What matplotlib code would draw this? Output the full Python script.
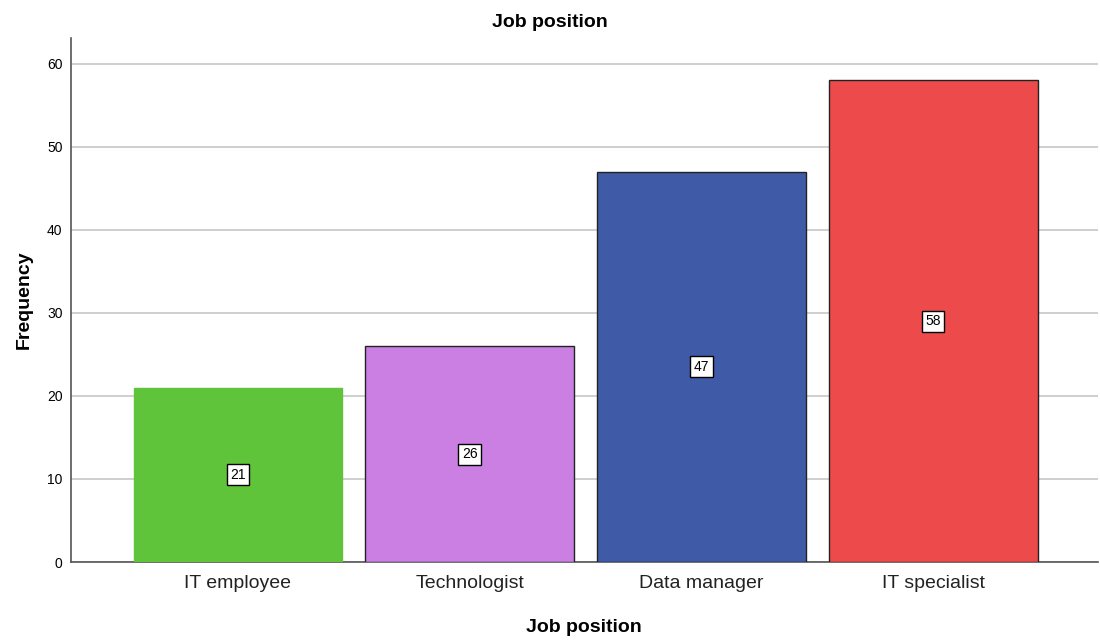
import matplotlib
matplotlib.use('Agg')
import matplotlib.pyplot as plt

plt.rcParams['font.family'] = ['Liberation Sans', 'DejaVu Sans']

# data
positions = ['IT employee', 'Technologist', 'Data manager', 'IT specialist']
freq = [21, 26, 47, 58]
colors = ['#5fc43a', '#cb7fe3', '#3f5ba8', '#ec4a4b']
edges = ['#5fc43a', '#222222', '#222222', '#222222']

fig = plt.figure(figsize=(11, 6.41), dpi=100)
ax = fig.add_axes([0.0645, 0.1232, 0.9335, 0.8175])

x = range(len(positions))
ax.bar(x, freq, width=0.9, color=colors, edgecolor=edges, linewidth=1.0, zorder=3)

# value labels in boxes at mid height
for i, v in enumerate(freq):
	ax.text(i, v/2., str(v), ha='center', va='center', fontsize=10, zorder=4,
		bbox=dict(boxstyle='square,pad=0.25', fc='white', ec='black', lw=1))

ax.set_xlim(-0.72, 3.71)
ax.set_ylim(0, 63.1)
ax.set_yticks(range(0, 61, 10))
ax.set_xticks(list(x))
ax.set_xticklabels(positions, fontsize=14)
ax.tick_params(axis='y', labelsize=10, length=0, pad=6)
ax.tick_params(axis='x', length=0, pad=9, colors='#222222')
ax.yaxis.grid(True, color='#cccccc', linewidth=1.3, zorder=0)

for s in ['top', 'right']:
	ax.spines[s].set_visible(False)
for s in ['left', 'bottom']:
	ax.spines[s].set_color('#555555')
	ax.spines[s].set_linewidth(1.2)

fig.text(0.5, 0.965, 'Job position', ha='center', va='center', fontsize=14, fontweight='bold')
ax.set_xlabel('Job position', fontsize=14, fontweight='bold', labelpad=20)
ax.set_ylabel('Frequency', fontsize=14, fontweight='bold', labelpad=10)

plt.savefig('out.png', dpi=100)
